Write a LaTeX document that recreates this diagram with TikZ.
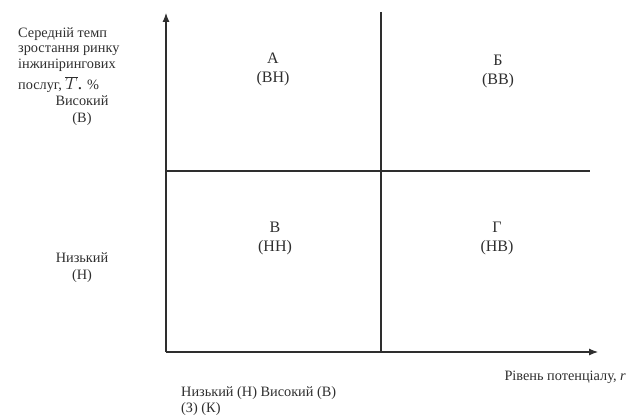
\documentclass[tikz,border=0pt]{standalone}
\usepackage{fontspec}
\setmainfont{Liberation Serif}
\usetikzlibrary{arrows.meta}
\definecolor{ink}{HTML}{2E2E2E}
\tikzset{
  axis/.style={draw=ink, line width=1.1pt, -{Latex[length=9pt,width=7pt]}},
  grid line/.style={draw=ink, line width=1.1pt},
  side/.style={text=ink, inner sep=0pt, font=\fontsize{14.3}{16}\selectfont},
  quad/.style={text=ink, inner sep=0pt, align=center, font=\fontsize{16}{19}\selectfont},
  sidepair/.style={text=ink, inner sep=0pt, align=center, font=\fontsize{14.3}{17}\selectfont}
}
\begin{document}
\begin{tikzpicture}[x=1pt,y=-1pt]
\useasboundingbox (0,0) rectangle (628,419);
% axis points
\coordinate (O) at (166,352);
\coordinate (Ytop) at (166,13);
\coordinate (Xend) at (598,352);
\coordinate (Mtop) at (381,12);
\coordinate (Mbot) at (381,352);
\coordinate (Hl) at (166,171);
\coordinate (Hr) at (590,171);
% lines
\draw[grid line] (Mtop) -- (Mbot);
\draw[grid line] (Hl) -- (Hr);
\draw[axis] (O) -- (Ytop);
\draw[axis] (O) -- (Xend);
% y-axis title
\node[side, anchor=base west] (t1) at (18,38) {Середній темп};
\node[side, anchor=base west] (t2) at (18,53) {зростання ринку};
\node[side, anchor=base west] (t3) at (18,69) {інжинірингових};
\node[side, anchor=base west] (t4) at (18,90) {послуг, {\fontsize{19}{19}\selectfont$\overline{T}$.} \%};
\node[sidepair] (hi) at (82,111) {Високий\\(В)};
\node[sidepair] (lo) at (82,268) {Низький\\(Н)};
% quadrants
\node[quad] (qa) at (273,69) {А\\(ВН)};
\node[quad] (qb) at (498,71) {Б\\(ВВ)};
\node[quad] (qc) at (275,238) {В\\(НН)};
\node[quad] (qd) at (497,238) {Г\\(НВ)};
% x-axis labels
\node[side, anchor=base east] (xl) at (626,380) {Рівень потенціалу, \textit{r}};
\node[side, anchor=base west] (b1) at (181,396) {Низький (Н) Високий (В)};
\node[side, anchor=base west] (b2) at (181,412) {(З) (К)};
\end{tikzpicture}
\end{document}
